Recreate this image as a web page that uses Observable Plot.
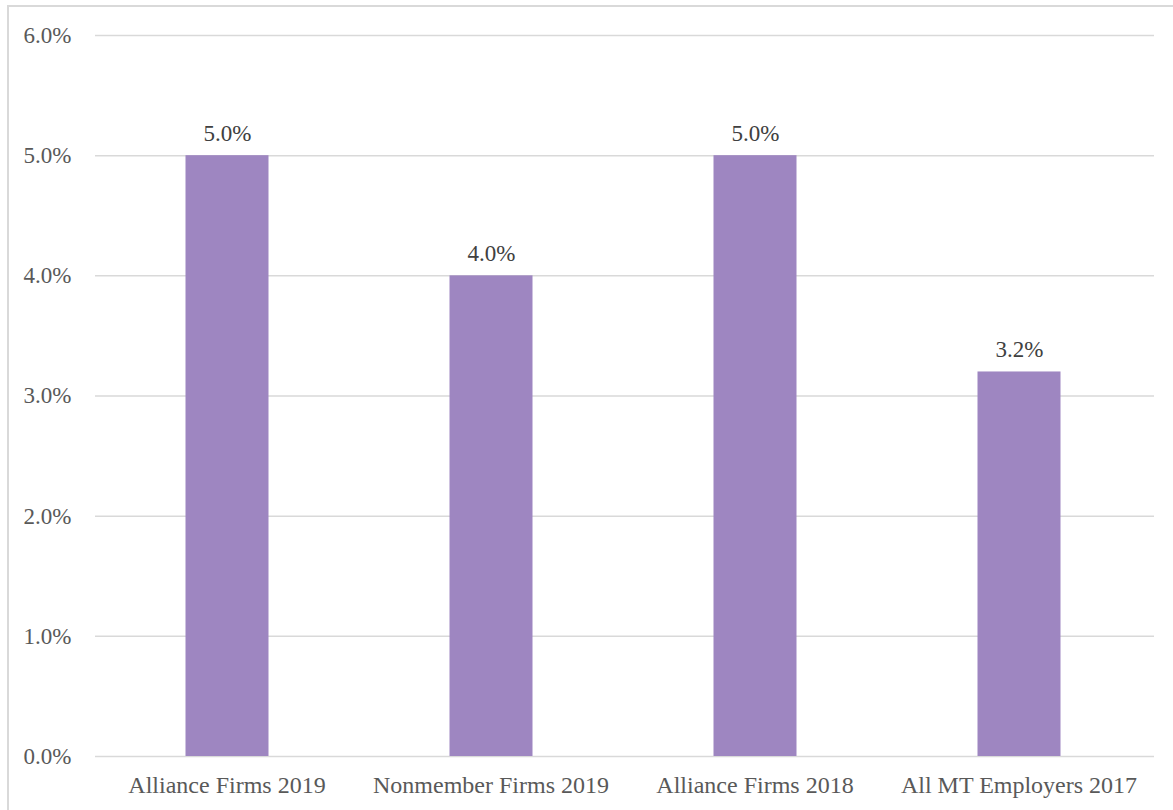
<!DOCTYPE html>
<html>
<head>
<meta charset="utf-8">
<script src="https://cdn.jsdelivr.net/npm/d3@7"></script>
<script src="https://cdn.jsdelivr.net/npm/@observablehq/plot@0.6"></script>
<style>
  html, body { margin: 0; padding: 0; background: white; overflow: hidden; }
  #chart { position: absolute; left: 0; top: 0; }
  #chart svg text { font-family: "Liberation Serif", "Times New Roman", Tinos, serif !important; }
  #border { position: absolute; left: 7px; top: 5px; width: 1300px; height: 1000px;
            border: 2px solid #d9d9d9; pointer-events: none; box-sizing: border-box; }
</style>
</head>
<body>
<div id="chart"></div>
<div id="border"></div>
<script>
const categories = ["Alliance Firms 2019", "Nonmember Firms 2019", "Alliance Firms 2018", "All MT Employers 2017"];
const values = [5.0, 4.0, 5.0, 3.2];
const yTicks = [0, 1, 2, 3, 4, 5, 6];

const data = categories.map((c, i) => ({category: c, value: values[i]}));
const fmt = d => d.toFixed(1) + "%";

const chart = Plot.plot({
  width: 1173,
  height: 810,
  marginLeft: 95,
  marginRight: 19,
  marginTop: 35,
  marginBottom: 54,
  style: "font-size: 23px; color: #595959; background: white;",
  x: {domain: categories, paddingInner: 0.687, paddingOuter: 0.3435, label: null},
  y: {domain: [0, 6], label: null},
  marks: [
    Plot.ruleY(yTicks, {stroke: "#d9d9d9", strokeWidth: 1.5}),
    Plot.barY(data, {x: "category", y: "value", fill: "#9e86c1", dx: -1.5}),
    Plot.text(data, {x: "category", y: "value", text: d => fmt(d.value), lineAnchor: "bottom", dy: -15, dx: -1.5, fill: "#404040", fontSize: 23}),
    Plot.axisY({ticks: yTicks, tickFormat: fmt, tickSize: 0, tickPadding: 24, label: null, fill: "#595959", fontSize: 23}),
    Plot.axisX({tickSize: 0, tickPadding: 19, dx: -2, label: null, fill: "#595959", fontSize: 24})
  ]
});
document.getElementById("chart").appendChild(chart);
</script>
</body>
</html>
